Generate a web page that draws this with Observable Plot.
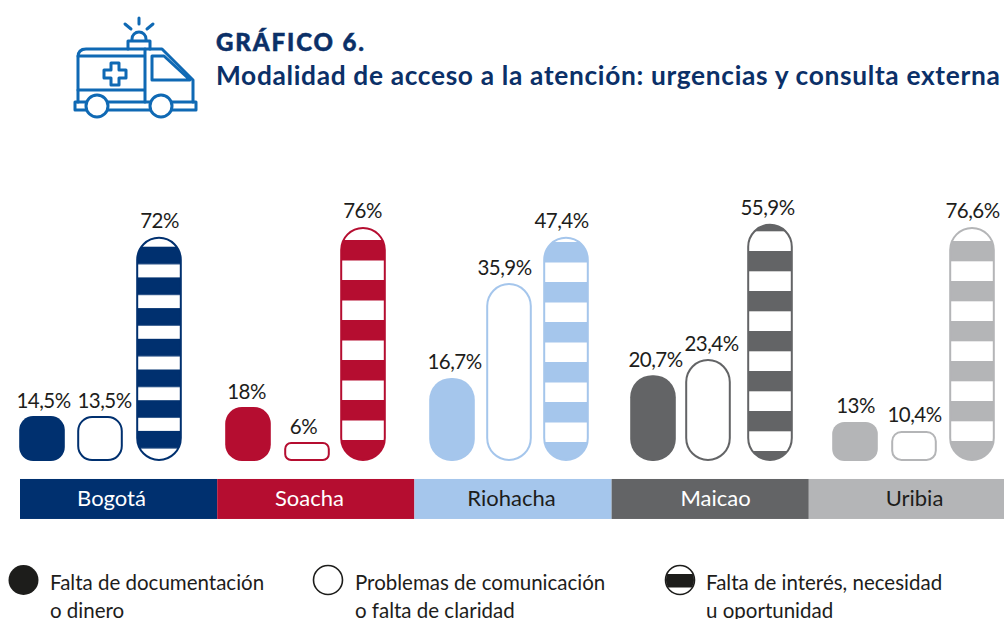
<!DOCTYPE html>
<html lang="es">
<head>
<meta charset="utf-8">
<script src="https://cdn.jsdelivr.net/npm/d3@7"></script>
<script src="https://cdn.jsdelivr.net/npm/@observablehq/plot@0.6"></script>
<style>
  html, body { margin: 0; padding: 0; background: #fff; width: 1004px; height: 619px; overflow: hidden; font-family: Lato, "Open Sans", sans-serif; }
  #header { position: relative; height: 190px; }
  #header svg { position: absolute; left: 0; top: 0; }
  #t1 { position: absolute; left: 216px; top: 27px; font-size: 24px; font-weight: 900; color: #0b3068; letter-spacing: 1.9px; line-height: 30px; white-space: nowrap; -webkit-text-stroke: .5px #0b3068; }
  #t2 { position: absolute; left: 216px; top: 59px; font-size: 26.3px; font-weight: 700; color: #0b3068; letter-spacing: .67px; line-height: 32px; white-space: nowrap; }
  #chart { height: 340px; }
  #chart svg { display: block; }
  #legend { position: relative; height: 89px; overflow: hidden; color: #1d1d1b; }
  #legend svg { position: absolute; left: 0; top: 0; }
  .lg { position: absolute; top: 38px; font-size: 20.5px; line-height: 28px; white-space: nowrap; }
  .barlabel text { letter-spacing: -.5px; }
</style>
</head>
<body>
<div id="header">
  <svg width="210" height="130" viewBox="0 0 210 130" fill="none" stroke="#0f69b4" stroke-width="3" stroke-linejoin="round" stroke-linecap="round">
    <path d="M78 102V57q0-8 8-8h76l31 31v22"/>
    <path d="M78 56h67M145 49v53M78 90h67"/>
    <path d="M152 56h12l26 24h-38z"/>
    <path d="M111 63h8v7h7v8h-7v7h-8v-7h-7v-8h7z"/>
    <path d="M75 102h121v8H75z"/>
    <circle cx="97" cy="106" r="11" fill="#fff"/>
    <circle cx="161" cy="106" r="11" fill="#fff"/>
    <path d="M128 49v-8h22v8M132 41v-2a7 7 0 0 1 14 0v2"/>
    <path d="M139 18v6M125 24l6 5M153 24l-6 5"/>
  </svg>
  <div id="t1">GRÁFICO 6.</div>
  <div id="t2">Modalidad de acceso a la atención: urgencias y consulta externa</div>
</div>
<div id="chart"></div>
<div id="legend">
  <svg width="1004" height="89">
    <defs><clipPath id="lc"><circle cx="680" cy="50" r="14"/></clipPath></defs>
    <circle cx="23.5" cy="50" r="15" fill="#1d1d1b"/>
    <circle cx="328" cy="50" r="14.5" fill="#fff" stroke="#1d1d1b" stroke-width="1.6"/>
    <circle cx="680" cy="50" r="14.5" fill="#fff" stroke="#1d1d1b" stroke-width="1.6"/>
    <rect x="665" y="44" width="30" height="13.5" fill="#1d1d1b" clip-path="url(#lc)"/>
  </svg>
  <div class="lg" style="left:50px">Falta de documentación<br>o dinero</div>
  <div class="lg" style="left:355px">Problemas de comunicación<br>o falta de claridad</div>
  <div class="lg" style="left:706px">Falta de interés, necesidad<br>u oportunidad</div>
</div>
<script>
// Data
const cities = ["Bogotá", "Soacha", "Riohacha", "Maicao", "Uribia"];
const kinds = ["documentación o dinero", "comunicación o claridad", "interés, necesidad u oportunidad"];
// Printed percentages
const documentacion = [14.5, 18, 16.7, 20.7, 13];
const comunicacion = [13.5, 6, 35.9, 23.4, 10.4];
const interes = [72, 76, 47.4, 55.9, 76.6];
// The source draws each city at its own scale: bar lengths as read, on the Bogotá scale
const documentacionLargo = [14.5, 17.4, 26.8, 27.7, 12.6];
const comunicacionLargo = [14.5, 6.1, 57.4, 32.9, 9.7];
const interesLargo = [72.3, 75.5, 72.3, 76.5, 75.5];

// Styles and layout
const cityColors = ["#00306f", "#b50d30", "#a5c6ec", "#636466", "#b4b5b7"];
const cityTextColors = ["#ffffff", "#ffffff", "#1d1d1b", "#ffffff", "#1d1d1b"];
const groupStart = [42, 248, 452, 653, 855];
const barStep = 58, barHalf = 22.8;
const barNudge = [[0, 0, 1], [0, 1, -1], [0, -1, -2], [0, -3, 1], [0, 1, 1]];
const labelNudge = [[1, 4, 0], [-2, -4, -1], [2, -5, -5], [2, 3, -3], [0, 0, 0]];
const stripStart = 20, stripStep = 197.2;
const stripLabelOffset = [91, 91.8, 96.6, 103.4, 105.2];
const pxPerUnit = 3.1;
// stripe geometry: first band top (page px), band height, period
const stripes = [[246.7, 17.6, 30.7], [240, 20.5, 40], [242, 20.5, 40], [211, 20.3, 40], [241, 20.3, 40]];
const chartTop = 190;

const rows = cities.flatMap((city, i) => [
  {city, i, k: 0, kind: kinds[0], value: documentacion[i], len: documentacionLargo[i]},
  {city, i, k: 1, kind: kinds[1], value: comunicacion[i], len: comunicacionLargo[i]},
  {city, i, k: 2, kind: kinds[2], value: interes[i], len: interesLargo[i]}
]);
const center = d => groupStart[d.i] + d.k * barStep + barNudge[d.i][d.k];
const pct = v => String(v).replace(".", ",") + "%";

const barMarks = rows.map(d => {
  const c = cityColors[d.i];
  const solid = d.k === 0;
  return Plot.rect([d], {
    x1: r => center(r) - barHalf,
    x2: r => center(r) + barHalf,
    y1: 0,
    y2: r => r.len,
    rx: Math.min(22, d.len * pxPerUnit * 0.31),
    inset: solid ? 0 : 1,
    fill: solid ? c : d.k === 1 ? "#fff" : `url(#stripe${d.i})`,
    stroke: solid ? "none" : c,
    strokeWidth: 2
  });
});

const stripRows = cities.map((city, i) => ({city, i}));

const plot = Plot.plot({
  width: 1004,
  height: 340,
  margin: 0,
  x: {domain: [0, 1004], range: [0, 1004], axis: null},
  y: {domain: [-22, 88], range: [271 + 22 * pxPerUnit, 271 - 88 * pxPerUnit], axis: null},
  style: {background: "transparent", fontFamily: "Lato, sans-serif"},
  marks: [
    ...barMarks,
    Plot.text(rows, {
      x: d => center(d) + labelNudge[d.i][d.k],
      y: "len",
      text: d => pct(d.value),
      lineAnchor: "bottom",
      dy: -9,
      fontSize: 20.5,
      fill: "#1d1d1b",
      className: "barlabel"
    }),
    Plot.rect(stripRows, {
      x1: d => stripStart + d.i * stripStep,
      x2: d => stripStart + (d.i + 1) * stripStep,
      y1: -5.8,
      y2: -18.7,
      fill: d => cityColors[d.i]
    }),
    Plot.text(stripRows, {
      x: d => stripStart + d.i * stripStep + stripLabelOffset[d.i],
      y: -12.2,
      text: "city",
      fontSize: 22,
      fill: d => cityTextColors[d.i]
    })
  ]
});

// Stripe patterns used as bar fills
const ns = "http://www.w3.org/2000/svg";
const defs = document.createElementNS(ns, "defs");
stripes.forEach(([top, h, period], i) => {
  const p = document.createElementNS(ns, "pattern");
  p.setAttribute("id", `stripe${i}`);
  p.setAttribute("patternUnits", "userSpaceOnUse");
  p.setAttribute("x", 0);
  p.setAttribute("y", top - chartTop);
  p.setAttribute("width", 1004);
  p.setAttribute("height", period);
  const bg = document.createElementNS(ns, "rect");
  bg.setAttribute("width", 1004);
  bg.setAttribute("height", period);
  bg.setAttribute("fill", "#fff");
  const band = document.createElementNS(ns, "rect");
  band.setAttribute("width", 1004);
  band.setAttribute("height", h);
  band.setAttribute("fill", cityColors[i]);
  p.append(bg, band);
  defs.append(p);
});
plot.prepend(defs);
document.getElementById("chart").append(plot);
</script>
</body>
</html>
